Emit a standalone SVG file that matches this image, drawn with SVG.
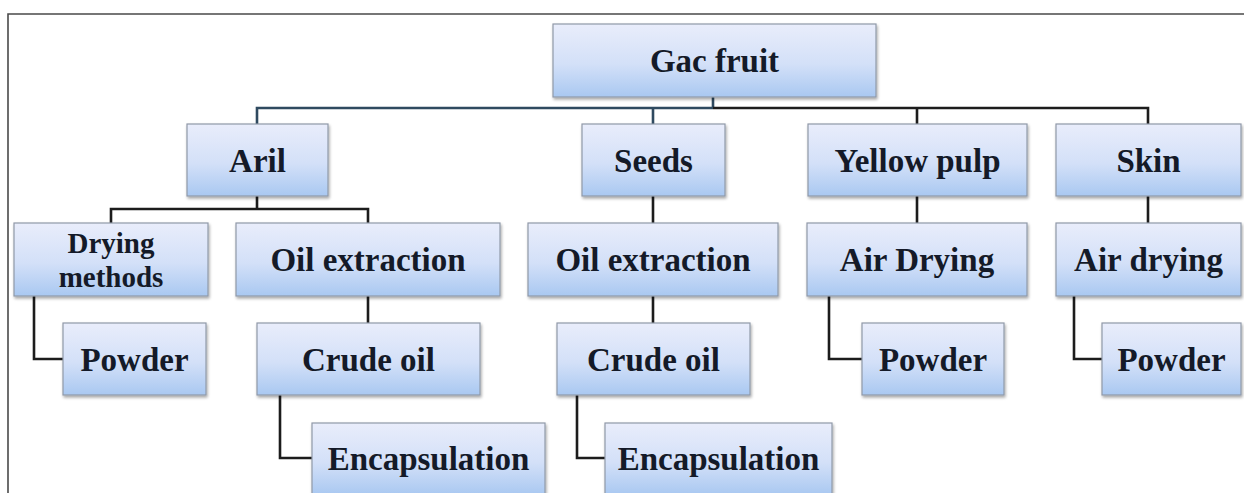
<svg xmlns="http://www.w3.org/2000/svg" width="1244" height="493" viewBox="0 0 1244 493">
<defs>
<linearGradient id="boxg" x1="0" y1="0" x2="0" y2="1">
<stop offset="0" stop-color="#e9edfb"/>
<stop offset="0.55" stop-color="#d3e0f8"/>
<stop offset="1" stop-color="#a9c8f1"/>
</linearGradient>
<filter id="sh" x="-5%" y="-5%" width="110%" height="120%">
<feGaussianBlur in="SourceAlpha" stdDeviation="1.5"/>
<feOffset dx="1" dy="2" result="b"/>
<feComponentTransfer><feFuncA type="linear" slope="0.35"/></feComponentTransfer>
<feMerge><feMergeNode/><feMergeNode in="SourceGraphic"/></feMerge>
</filter>
</defs>
<style>
.box{fill:url(#boxg);stroke:#9099a8;stroke-width:1.2;filter:url(#sh)}
.t{font-family:"Liberation Serif","Times New Roman",serif;font-weight:bold;font-size:33px;fill:#141a28;text-anchor:middle}
.t2{font-size:29px}
.c{fill:none;stroke:#1c1c1c;stroke-width:2.6}
.cb{fill:none;stroke:#2f4a60;stroke-width:2.6}
.frame{fill:none;stroke:#4a4a4a;stroke-width:1.6}
</style>
<rect width="1244" height="493" fill="#ffffff"/>
<path class="frame" d="M8,493 V14 H1244"/>
<g id="connectors">
<path class="cb" d="M713,97 V108 M257,124 V108 H713 M653,108 V124"/>
<path class="c" d="M713,108 H1148 V124 M917,108 V124"/>
<path class="c" d="M257,196 V209 M111,223 V209 H368 V223"/>
<path class="c" d="M34,296 V359 H63"/>
<path class="c" d="M368,296 V323"/>
<path class="c" d="M280,395 V458 H312"/>
<path class="c" d="M653,196 V223 M653,296 V323"/>
<path class="c" d="M577,395 V458 H605"/>
<path class="c" d="M917,196 V223 M829,296 V359 H862"/>
<path class="c" d="M1148,196 V223 M1074,296 V359 H1102"/>
</g>
<g id="gac"><rect class="box" x="553" y="24" width="323" height="73"/><text class="t" x="714.5" y="72">Gac fruit</text></g>
<g id="aril"><rect class="box" x="187" y="124" width="141" height="72"/><text class="t" x="257.5" y="172">Aril</text></g>
<g id="seeds"><rect class="box" x="582" y="124" width="143" height="72"/><text class="t" x="653.5" y="172">Seeds</text></g>
<g id="yellowpulp"><rect class="box" x="808" y="124" width="219" height="72"/><text class="t" x="917.5" y="172">Yellow pulp</text></g>
<g id="skin"><rect class="box" x="1056" y="124" width="185" height="72"/><text class="t" x="1148.5" y="172">Skin</text></g>
<g id="drying"><rect class="box" x="14" y="223" width="194" height="73"/><text class="t t2" x="111" y="253">Drying</text><text class="t t2" x="111" y="287">methods</text></g>
<g id="oil1"><rect class="box" x="236" y="223" width="264" height="73"/><text class="t" x="368" y="271">Oil extraction</text></g>
<g id="oil2"><rect class="box" x="528" y="223" width="250" height="73"/><text class="t" x="653" y="271">Oil extraction</text></g>
<g id="airdrying1"><rect class="box" x="807" y="223" width="220" height="73"/><text class="t" x="917" y="271">Air Drying</text></g>
<g id="airdrying2"><rect class="box" x="1056" y="223" width="185" height="73"/><text class="t" x="1148.5" y="271">Air drying</text></g>
<g id="powder1"><rect class="box" x="63" y="323" width="143" height="72"/><text class="t" x="134.5" y="371">Powder</text></g>
<g id="crude1"><rect class="box" x="257" y="323" width="223" height="72"/><text class="t" x="368.5" y="371">Crude oil</text></g>
<g id="crude2"><rect class="box" x="557" y="323" width="193" height="72"/><text class="t" x="653.5" y="371">Crude oil</text></g>
<g id="powder2"><rect class="box" x="862" y="323" width="142" height="72"/><text class="t" x="933" y="371">Powder</text></g>
<g id="powder3"><rect class="box" x="1102" y="323" width="139" height="72"/><text class="t" x="1171.5" y="371">Powder</text></g>
<g id="encap1"><rect class="box" x="312" y="423" width="233" height="72"/><text class="t" x="428.5" y="470">Encapsulation</text></g>
<g id="encap2"><rect class="box" x="605" y="423" width="227" height="72"/><text class="t" x="718.5" y="470">Encapsulation</text></g>
</svg>
